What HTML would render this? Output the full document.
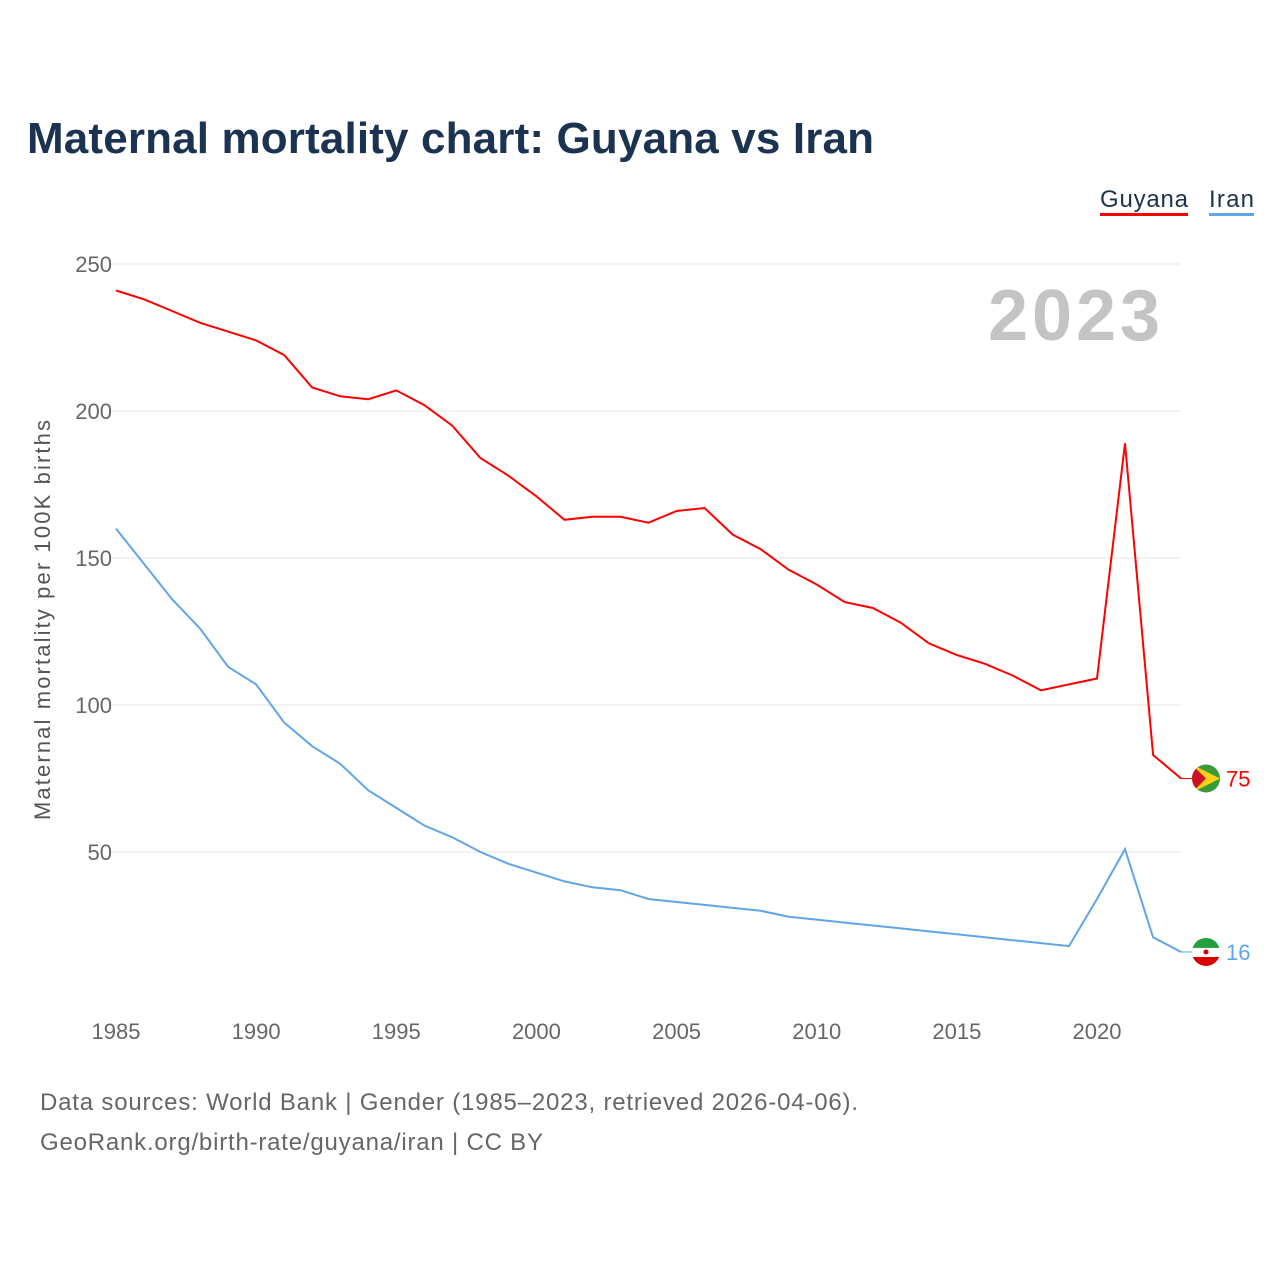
<!DOCTYPE html>
<html><head><meta charset="utf-8"><style>
body{margin:0;background:#fff;font-family:"Liberation Sans",sans-serif;}
svg text{font-family:"Liberation Sans",sans-serif;}
</style></head><body>
<svg width="1280" height="1280" viewBox="0 0 1280 1280">
<text x="27" y="153" font-size="44" font-weight="bold" fill="#1b3250" textLength="847">Maternal mortality chart: Guyana vs Iran</text>
<g>
<text x="1100" y="207" font-size="24" fill="#1b3250" textLength="88">Guyana</text>
<rect x="1100" y="213" width="88" height="3" fill="#f00"/>
<text x="1209" y="207" font-size="24" fill="#1b3250" textLength="45">Iran</text>
<rect x="1209" y="213" width="45" height="3" fill="#5fa5e8"/>
</g>
<text x="1160" y="340" font-size="72" font-weight="bold" fill="#c4c4c4" text-anchor="end" textLength="172">2023</text>
<g id="grid"></g><g id="xt"></g><g id="lines"></g>
<text transform="translate(50,620) rotate(-90)" font-size="22" fill="#555" text-anchor="middle" textLength="400">Maternal mortality per 100K births</text>
<text x="40" y="1110" font-size="24" fill="#666" textLength="818">Data sources: World Bank | Gender (1985–2023, retrieved 2026-04-06).</text>
<text x="40" y="1150" font-size="24" fill="#666" textLength="503">GeoRank.org/birth-rate/guyana/iran | CC BY</text>
</svg>
<script>
const years=[];for(let y=1985;y<=2023;y++)years.push(y);
const guyana=[241,238,234,230,227,224,219,208,205,204,207,202,195,184,178,171,163,164,164,162,166,167,158,153,146,141,135,133,128,121,117,114,110,105,107,109,189,83,75];
const iran=[160,148,136,126,113,107,94,86,80,71,65,59,55,50,46,43,40,38,37,34,33,32,31,30,28,27,26,25,24,23,22,21,20,19,18,34,51,21,16];
const yTicks=[50,100,150,200,250];
const xTicks=[1985,1990,1995,2000,2005,2010,2015,2020];
const NS='http://www.w3.org/2000/svg';
const X=v=>116+(v-1985)*(1097-116)/35;
const Y=v=>999-v*2.94;
function mk(t,a,p){const e=document.createElementNS(NS,t);for(const k in a)e.setAttribute(k,a[k]);p.appendChild(e);return e;}
const g=document.getElementById('grid');
yTicks.forEach(t=>{
const l=mk('line',{x1:112,x2:1181,y1:Y(t),y2:Y(t),stroke:'#e6e6e6','stroke-width':1},g);


const tx=mk('text',{x:112,y:Y(t)+8,'font-size':22,fill:'#666','text-anchor':'end'},g);tx.textContent=t;


});
const xt=document.getElementById('xt');
xTicks.forEach(t=>{
const tx=mk('text',{x:X(t),y:1039,'font-size':22,fill:'#666','text-anchor':'middle'},xt);tx.textContent=t;


});
const L=document.getElementById('lines');
function series(vals,col,name){
const p=mk('path',{d:vals.map((v,i)=>(i?'L':'M')+X(years[i]).toFixed(1)+','+Y(v).toFixed(1)).join(''),fill:'none',stroke:col,'stroke-width':2},L);


const lv=vals[vals.length-1],ly=Y(lv),lx=X(2023);
mk('line',{x1:lx,x2:lx+12,y1:ly,y2:ly,stroke:col,'stroke-width':1},L);
const t=mk('text',{x:1226,y:ly+8,'font-size':22,fill:col},L);t.textContent=lv;


return ly;
}
const gy=series(guyana,'#f00','guyana');
const iy=series(iran,'#5fa5e8','iran');
const cx=1206;
let c=mk('clipPath',{id:'cg'},L);mk('circle',{cx:cx,cy:gy,r:14},c);
let f=mk('g',{'clip-path':'url(#cg)'},L);


mk('rect',{x:cx-14,y:gy-14,width:28,height:28,fill:'#3a9a3a'},f);
mk('polygon',{points:`${cx-14},${gy-14} ${cx+14},${gy} ${cx-14},${gy+14}`,fill:'#fcd116'},f);
mk('polygon',{points:`${cx-14},${gy-14} ${cx},${gy} ${cx-14},${gy+14}`,fill:'#ce1126'},f);
c=mk('clipPath',{id:'ci'},L);mk('circle',{cx:cx,cy:iy,r:14},c);
f=mk('g',{'clip-path':'url(#ci)'},L);


mk('rect',{x:cx-14,y:iy-14,width:28,height:10,fill:'#239f40'},f);
mk('rect',{x:cx-14,y:iy-4,width:28,height:9,fill:'#fff'},f);
mk('rect',{x:cx-14,y:iy+5,width:28,height:10,fill:'#da0000'},f);
mk('circle',{cx:cx,cy:iy,r:2.5,fill:'#da0000'},f);
</script>
</body></html>
